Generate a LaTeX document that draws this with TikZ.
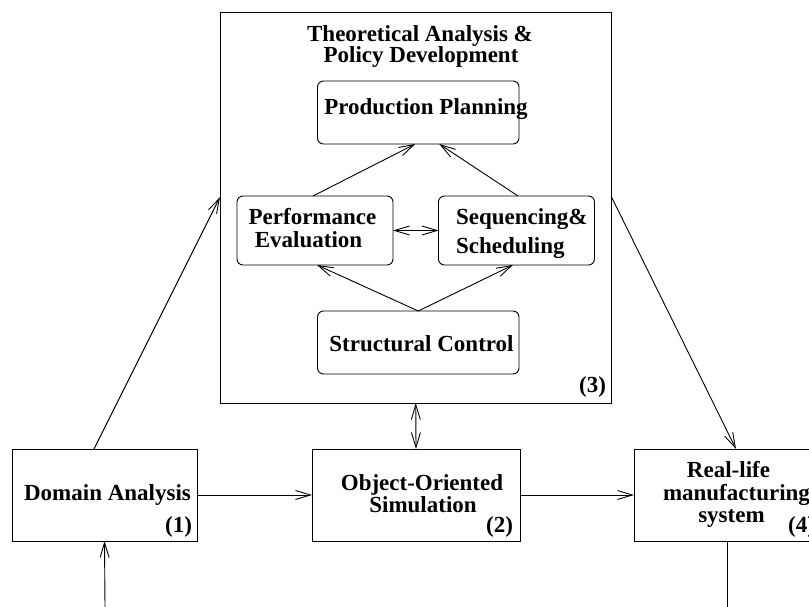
\documentclass[tikz,border=0pt]{standalone}
\usepackage{fontspec}
\setmainfont{Liberation Serif}
\usetikzlibrary{arrows.meta}
\tikzset{
  lbl/.style={inner sep=0pt, outer sep=0pt, font=\fontsize{23}{26}\selectfont\bfseries},
  rbox/.style={draw, line width=0.9pt, rounded corners=6pt, inner sep=0pt, outer sep=0pt},
  sbox/.style={draw, line width=0.9pt, inner sep=0pt, outer sep=0pt},
  conn/.style={line width=0.9pt, -{Straight Barb[length=15pt,width=9pt]}},
  dconn/.style={line width=0.9pt, {Straight Barb[length=15pt,width=9pt]}-{Straight Barb[length=15pt,width=9pt]}},
  plain/.style={line width=0.9pt}
}
\begin{document}
\begin{tikzpicture}[x=1pt,y=-1pt]
\useasboundingbox (0,0) rectangle (809,607);
% big box
\node[sbox, minimum width=391.5, minimum height=391] (B) at (415.75,207.5) {};
\node[lbl, anchor=base] (t1) at (420,42) {Theoretical Analysis \&};
\node[lbl, anchor=base] (t2) at (421,63) {Policy Development};
\node[lbl, anchor=base east] (n3) at (606,392) {(3)};
% inner boxes
\node[rbox, minimum width=201.5, minimum height=63] (pp) at (418.25,112.5) {};
\node[lbl, anchor=base] (ppt) at (426,115) {Production Planning};
\node[rbox, minimum width=156, minimum height=69] (pe) at (315,230.5) {};
\node[lbl, anchor=base] (pet1) at (312.5,225) {Performance};
\node[lbl, anchor=base] (pet2) at (308.5,247) {Evaluation};
\node[rbox, minimum width=156, minimum height=69] (ss) at (516.5,230.5) {};
\node[lbl, anchor=base west] (sst1) at (456,225) {Sequencing\&};
\node[lbl, anchor=base west] (sst2) at (456,253) {Scheduling};
\node[rbox, minimum width=201.5, minimum height=63] (sc) at (418.25,342.5) {};
\node[lbl, anchor=base] (sct) at (421.5,351) {Structural Control};
% bottom boxes
\node[sbox, minimum width=185, minimum height=92] (da) at (104.5,495) {};
\node[lbl, anchor=base] (dat) at (107.5,500) {Domain Analysis};
\node[lbl, anchor=base east] (n1) at (192,532) {(1)};
\node[sbox, minimum width=208, minimum height=92] (oo) at (416,495) {};
\node[lbl, anchor=base] (oot1) at (422,490) {Object-Oriented};
\node[lbl, anchor=base] (oot2) at (423,512.5) {Simulation};
\node[lbl, anchor=base east] (n2) at (513,532) {(2)};
\node[sbox, minimum width=186, minimum height=92] (rl) at (727,495) {};
\node[lbl, anchor=base] (rlt1) at (728.5,477) {Real-life};
\node[lbl, anchor=base west] (rlt2) at (663,500.5) {manufacturing};
\node[lbl, anchor=base] (rlt3) at (731.5,522.5) {system};
\node[lbl, anchor=base east] (n4) at (815,532) {(4)};
% inner connectors
\draw[conn] ([xshift=-2pt]pe.north) -- ([xshift=-3pt]pp.south);
\draw[conn] ([xshift=1.5pt]ss.north) -- ([xshift=21pt]pp.south);
\draw[conn] (sc.north) -- ([xshift=2pt]pe.south);
\draw[conn] (sc.north) -- ([xshift=-3.5pt]ss.south);
\draw[dconn] (pe.east) -- (ss.west);
% outer connectors
\coordinate (inL) at (105,607);
\coordinate (outR) at (727,607);
\draw[conn] ([xshift=-10.5pt]da.north) -- ([yshift=10.5pt]B.west);
\draw[conn] ([yshift=10.5pt]B.east) -- ([xshift=9pt]rl.north);
\draw[dconn] (B.south) -- (oo.north);
\draw[conn] (da.east) -- (oo.west);
\draw[conn] (oo.east) -- (rl.west);
\draw[conn] (inL) -- (da.south);
\draw[plain] (rl.south) -- (outR);
\end{tikzpicture}
\end{document}
